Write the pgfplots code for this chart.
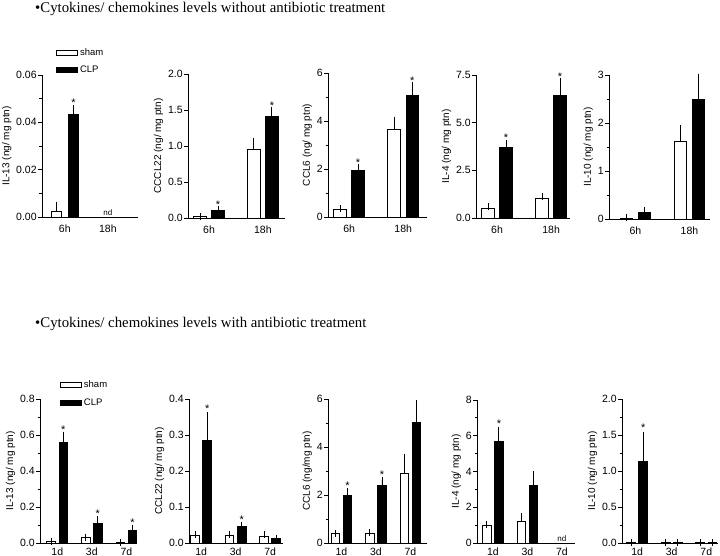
\documentclass[border=0pt]{standalone}
\usepackage{fontspec}
\setmainfont{Liberation Serif}
\newfontfamily\arial{Liberation Sans}
\usepackage{pgfplots}
\pgfplotsset{compat=1.18}

\pgfplotsset{
  panel/.style={
    scale only axis, anchor=south west,
    axis lines*=left,
    axis line style={line width=0.9pt},
    ymin=0, clip=false,
    tick align=outside,
    xtick style={draw=none},
    ytick style={line width=0.9pt, black},
    major tick length=4pt, minor tick length=2.5pt,
    /pgf/number format/assume math mode=true,
    scaled y ticks=false,
    tick label style={font=\arial\fontsize{10.5}{12}\selectfont},
    yticklabel style={inner xsep=1.2pt},
    ylabel style={font=\arial\fontsize{10}{11}\selectfont},
    ylabel shift=0pt,
  },
  hours/.style={xtick={0,1}, xticklabels={6h,18h}, bar width=0.23},
  days/.style={xtick={0,1,2}, xticklabels={1d,3d,7d}, bar width=0.25,
    xticklabel style={yshift=3pt}},
  dec/.style={yticklabel style={/pgf/number format/.cd, fixed, fixed zerofill, precision=#1}},
  sham/.style={ybar, draw=black, fill=white, line width=0.9pt,
    error bars/.cd, y dir=plus, y explicit,
    error bar style={line width=0.9pt}, error mark options={line width=0.9pt, mark size=3.5pt}},
  clp/.style={ybar, draw=black, fill=black, line width=0.9pt,
    error bars/.cd, y dir=plus, y explicit,
    error bar style={line width=0.9pt}, error mark options={line width=0.9pt, mark size=3.5pt}},
  leg/.style={
    legend style={draw=none, fill=none, at={#1}, anchor=north west, inner sep=0pt,
      font=\arial\fontsize{9.5}{11}\selectfont, row sep=5pt},
    legend cell align=left,
    legend image code/.code={\draw[##1, line width=0.8pt] (0pt,-2.5pt) rectangle (21pt,2.5pt);},
  },
}
\newcommand{\sig}[2]{\node[anchor=south, inner sep=0pt, font=\arial\fontsize{11}{12}\selectfont] at (axis cs:#1,#2) {*};}
\newcommand{\nd}[1]{\node[anchor=south, inner sep=1pt, font=\arial\fontsize{8}{9}\selectfont] at (axis cs:#1,0) {nd};}

\begin{document}
\begin{tikzpicture}
\path[use as bounding box] (0pt,0pt) rectangle (720pt,-556pt);

\node[anchor=base west, font=\fontsize{14.8}{17}\selectfont, inner sep=0pt] at (35pt,-13pt)
  {•Cytokines/ chemokines levels without antibiotic treatment};
\node[anchor=base west, font=\fontsize{14.8}{17}\selectfont, inner sep=0pt] at (35pt,-327pt)
  {•Cytokines/ chemokines levels with antibiotic treatment};

% ---- top row: without antibiotic ----
\begin{axis}[panel, hours, dec=2, leg={(0.146,1.2)}, at={(42pt,-217pt)}, width=96pt, height=142pt,
  xmin=-0.53, xmax=1.70, ymax=0.06, ytick={0,0.02,0.04,0.06}, minor ytick={0.01,0.03,0.05},
  ylabel={IL-13 (ng/ mg ptn)}]
  \addplot[sham] coordinates {(-0.2,0.0025) +- (0,0.0025)};
  \addplot[clp] coordinates {(0.2,0.0435) +- (0,0.0023)};
  \legend{sham,CLP}
  \sig{0.2}{0.0468}
  \nd{1}
\end{axis}

\begin{axis}[panel, hours, dec=1, at={(188pt,-218pt)}, width=97pt, height=144pt,
  xmin=-0.39, xmax=1.41, ymax=2, ytick={0,0.5,1,1.5,2},
  ylabel={CCCL22 (ng/ mg ptn)}]
  \addplot[sham] coordinates {(-0.167,0.02) +- (0,0.003) (0.833,0.95) +- (0,0.11)};
  \addplot[clp] coordinates {(0.167,0.11) +- (0,0.01) (1.167,1.41) +- (0,0.08)};
  \sig{0.167}{0.135}
  \sig{1.167}{1.51}
\end{axis}

\begin{axis}[panel, hours, at={(328pt,-217pt)}, width=99pt, height=144pt,
  xmin=-0.39, xmax=1.44, ymax=6, ytick={0,2,4,6}, minor ytick={1,3,5},
  ylabel={CCL6 (ng/ mg ptn)}]
  \addplot[sham] coordinates {(-0.167,0.33) +- (0,0.01) (0.833,3.63) +- (0,0.41)};
  \addplot[clp] coordinates {(0.167,1.93) +- (0,0.12) (1.167,5.08) +- (0,0.39)};
  \sig{0.167}{2.1}
  \sig{1.167}{5.52}
\end{axis}

\begin{axis}[panel, hours, dec=1, at={(476pt,-218pt)}, width=94pt, height=143pt,
  xmin=-0.39, xmax=1.35, ymax=7.5, ytick={0,2.5,5,7.5},
  ylabel={IL-4 (ng/ mg ptn)}]
  \addplot[sham] coordinates {(-0.167,0.5) +- (0,0.1) (0.833,1.0) +- (0,0.12)};
  \addplot[clp] coordinates {(0.167,3.69) +- (0,0.22) (1.167,6.45) +- (0,0.7)};
  \sig{0.167}{3.98}
  \sig{1.167}{7.22}
\end{axis}

\begin{axis}[panel, hours, at={(609pt,-219pt)}, width=101pt, height=144pt,
  xmin=-0.49, xmax=1.38, ymax=3, ytick={0,1,2,3}, minor ytick={0.5,1.5,2.5},
  ylabel={IL-10 (ng/ mg ptn)}]
  \addplot[sham] coordinates {(-0.167,0.02) +- (0,0.005) (0.833,1.61) +- (0,0.28)};
  \addplot[clp] coordinates {(0.167,0.14) +- (0,0.04) (1.167,2.49) +- (0,0.46)};
\end{axis}

% ---- bottom row: with antibiotic ----
\begin{axis}[panel, days, dec=1, leg={(0.21,1.14)}, at={(40pt,-543pt)}, width=95pt, height=144pt,
  xmin=-0.5, xmax=2.25, ymax=0.8, ytick={0,0.2,0.4,0.6,0.8}, minor ytick={0.1,0.3,0.5,0.7},
  ylabel={IL-13 (ng/ mg ptn)}]
  \addplot[sham] coordinates {(-0.175,0.008) +- (0,0.002) (0.825,0.03) +- (0,0.003) (1.825,0.003) +- (0,0.001)};
  \addplot[clp] coordinates {(0.175,0.56) +- (0,0.04) (1.175,0.11) +- (0,0.02) (2.175,0.07) +- (0,0.013)};
  \legend{sham,CLP}
  \sig{0.175}{0.61}
  \sig{1.175}{0.14}
  \sig{2.175}{0.092}
\end{axis}

\begin{axis}[panel, days, dec=1, at={(189pt,-543pt)}, width=94pt, height=144pt,
  xmin=-0.35, xmax=2.37, ymax=0.4, ytick={0,0.1,0.2,0.3,0.4},
  ylabel={CCL22 (ng/ mg ptn)}]
  \addplot[sham] coordinates {(-0.175,0.022) +- (0,0.002) (0.825,0.02) +- (0,0.004) (1.825,0.018) +- (0,0.005)};
  \addplot[clp] coordinates {(0.175,0.285) +- (0,0.068) (1.175,0.045) +- (0,0.003) (2.175,0.012) +- (0,0.001)};
  \sig{0.175}{0.362}
  \sig{1.175}{0.055}
\end{axis}

\begin{axis}[panel, days, at={(328pt,-543pt)}, width=99pt, height=144pt,
  xmin=-0.39, xmax=2.48, ymax=6, ytick={0,2,4,6}, minor ytick={1,3,5},
  ylabel={CCL6 (ng/mg ptn)}]
  \addplot[sham] coordinates {(-0.175,0.38) +- (0,0.03) (0.825,0.4) +- (0,0.02) (1.825,2.9) +- (0,0.67)};
  \addplot[clp] coordinates {(0.175,2.0) +- (0,0.14) (1.175,2.4) +- (0,0.22) (2.175,5.03) +- (0,0.8)};
  \sig{0.175}{2.22}
  \sig{1.175}{2.7}
\end{axis}

\begin{axis}[panel, days, at={(477pt,-543pt)}, width=98pt, height=143pt,
  xmin=-0.46, xmax=2.38, ymax=8, ytick={0,2,4,6,8}, minor ytick={1,3,5,7},
  ylabel={IL-4 (ng/ mg ptn)}]
  \addplot[sham] coordinates {(-0.175,1.0) +- (0,0.03) (0.825,1.2) +- (0,0.3)};
  \addplot[clp] coordinates {(0.175,5.7) +- (0,0.6) (1.175,3.2) +- (0,0.63)};
  \sig{0.175}{6.45}
  \nd{2}
\end{axis}

\begin{axis}[panel, days, dec=1, at={(622pt,-543pt)}, width=96pt, height=144pt,
  xmin=-0.44, xmax=2.34, ymax=2, ytick={0,0.5,1,1.5,2}, minor ytick={0.25,0.75,1.25,1.75},
  ylabel={IL-10 (ng/ mg ptn)}]
  \addplot[sham] coordinates {(-0.175,0.01) +- (0,0.003) (0.825,0.005) +- (0,0) (1.825,0.005) +- (0,0)};
  \addplot[clp] coordinates {(0.175,1.13) +- (0,0.37) (1.175,0.005) +- (0,0) (2.175,0.005) +- (0,0)};
  \sig{0.175}{1.55}
\end{axis}
\end{tikzpicture}
\end{document}
